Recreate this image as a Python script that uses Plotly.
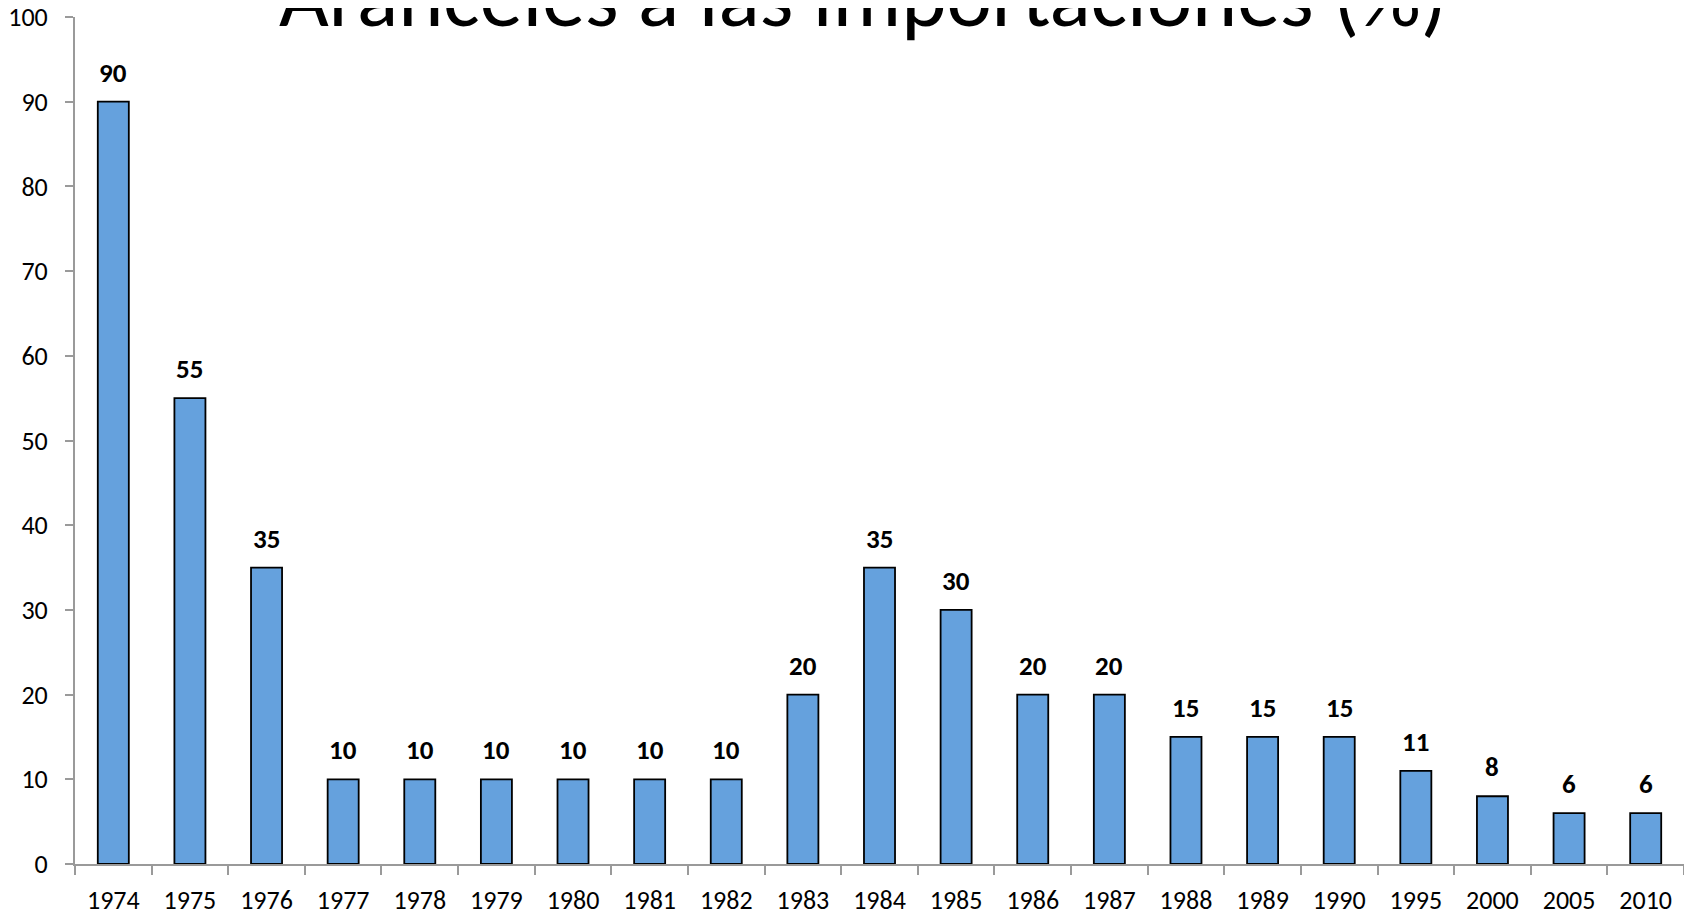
import plotly.graph_objects as go

years = ["1974", "1975", "1976", "1977", "1978", "1979", "1980", "1981", "1982", "1983",
         "1984", "1985", "1986", "1987", "1988", "1989", "1990", "1995", "2000", "2005", "2010"]
tariffs = [90, 55, 35, 10, 10, 10, 10, 10, 10, 20, 35, 30, 20, 20, 15, 15, 15, 11, 8, 6, 6]
title_text = "Aranceles a las importaciones (%)"

FONT = "Carlito, Calibri, Lato, sans-serif"

fig = go.Figure()
fig.add_trace(go.Bar(
    x=years, y=tariffs,
    marker=dict(color="#65A1DD", line=dict(color="black", width=1.8)),
    hoverinfo="x+y",
))

for i, v in enumerate(tariffs):
    fig.add_annotation(x=i, y=v, xref="x", yref="y", text=f"<b>{v}</b>", showarrow=False,
                       yanchor="bottom", yshift=11,
                       font=dict(family=FONT, size=27, color="black"))

fig.add_annotation(x=0.490, y=1.0, xref="paper", yref="paper", text=title_text,
                   showarrow=False, yanchor="bottom", yshift=-34,
                   font=dict(family=FONT, size=86, color="black"))

fig.update_layout(
    width=1692, height=913,
    margin=dict(l=67, r=16, t=9, b=57),
    paper_bgcolor="white", plot_bgcolor="white",
    bargap=0.595, showlegend=False,
    font=dict(family=FONT, size=26, color="black"),
)
fig.update_xaxes(type="category", range=[-0.5, len(years) - 0.5], automargin=False,
                 showline=True, linecolor="#9a9a9a", linewidth=2,
                 ticks="outside", ticklen=9, tickcolor="#9a9a9a", tickwidth=2,
                 tickson="boundaries", showgrid=False, ticklabelstandoff=12, tickangle=0,
                 ticklabeloverflow="allow",
                 tickfont=dict(family=FONT, size=26, color="black"))
fig.update_yaxes(range=[0, 100], dtick=10, automargin=False,
                 showline=True, linecolor="#9a9a9a", linewidth=2,
                 ticks="outside", ticklen=8, tickcolor="#9a9a9a", tickwidth=2,
                 showgrid=False, zeroline=False, ticklabelstandoff=12,
                 ticklabeloverflow="allow",
                 tickfont=dict(family=FONT, size=26, color="black"))

fig.write_html("out.html")
